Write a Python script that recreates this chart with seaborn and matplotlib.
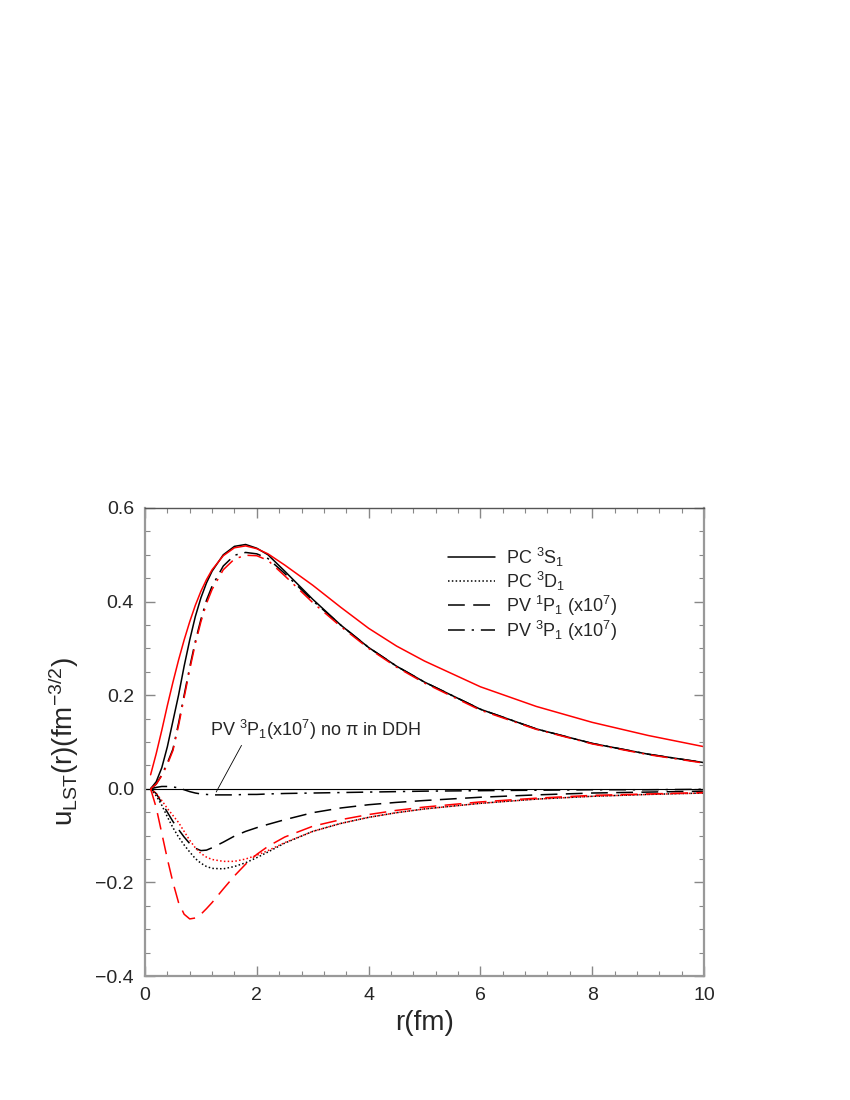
import matplotlib
matplotlib.use("Agg")
import matplotlib.pyplot as plt
from matplotlib.lines import Line2D
from matplotlib.ticker import MultipleLocator
import seaborn as sns

# ------------------------------
# data
# ------------------------------
r = [0.1, 0.2, 0.3, 0.4, 0.5, 0.6, 0.7, 0.8, 0.9, 1.0, 1.1, 1.2, 1.4, 1.6,
     1.8, 2.0, 2.2, 2.5, 3.0, 3.5, 4.0, 4.5, 5.0, 6.0, 7.0, 8.0, 9.0, 10.0]

# PC 3S1
s1_black = [0.0, 0.015, 0.045, 0.09, 0.145, 0.2, 0.262, 0.318, 0.368, 0.408, 0.44, 0.465, 0.5, 0.518,
            0.522, 0.514, 0.5, 0.465, 0.405, 0.35, 0.302, 0.262, 0.228, 0.170, 0.128, 0.097, 0.074, 0.056]
s1_red = [0.03, 0.075, 0.125, 0.178, 0.228, 0.275, 0.318, 0.357, 0.392, 0.422, 0.447, 0.468, 0.498, 0.515,
          0.519, 0.513, 0.502, 0.478, 0.435, 0.388, 0.343, 0.305, 0.273, 0.218, 0.176, 0.142, 0.114, 0.09]

# PC 3D1
d1_black = [0.0, -0.015, -0.035, -0.06, -0.083, -0.103, -0.12, -0.135, -0.149, -0.159, -0.166, -0.17, -0.171, -0.166,
            -0.158, -0.147, -0.135, -0.116, -0.091, -0.074, -0.061, -0.051, -0.043, -0.031, -0.022, -0.016, -0.012, -0.009]
d1_red = [0.0, -0.01, -0.025, -0.042, -0.057, -0.072, -0.091, -0.11, -0.126, -0.138, -0.146, -0.151, -0.155, -0.155,
          -0.15, -0.142, -0.132, -0.115, -0.091, -0.074, -0.061, -0.051, -0.043, -0.031, -0.022, -0.016, -0.012, -0.009]

# PV 1P1 (x10^7)
p1_black = [0.0, -0.01, -0.03, -0.05, -0.07, -0.087, -0.103, -0.117, -0.127, -0.132, -0.131, -0.126, -0.114, -0.101,
            -0.091, -0.083, -0.076, -0.066, -0.051, -0.041, -0.034, -0.029, -0.025, -0.018, -0.013, -0.009, -0.007, -0.005]
p1_red = [0.0, -0.04, -0.095, -0.15, -0.2, -0.243, -0.268, -0.278, -0.276, -0.268, -0.256, -0.243, -0.214, -0.186,
          -0.161, -0.14, -0.123, -0.103, -0.08, -0.066, -0.055, -0.046, -0.039, -0.028, -0.02, -0.014, -0.011, -0.008]

# PV 3P1 (x10^7)
p3_black = [0.0, 0.01, 0.03, 0.055, 0.085, 0.14, 0.2, 0.26, 0.315, 0.362, 0.403, 0.433, 0.476, 0.499,
            0.505, 0.502, 0.492, 0.46, 0.402, 0.35, 0.302, 0.262, 0.228, 0.170, 0.128, 0.097, 0.074, 0.056]
p3_red = [0.0, 0.01, 0.028, 0.052, 0.082, 0.135, 0.195, 0.255, 0.31, 0.357, 0.396, 0.426, 0.468, 0.491,
          0.499, 0.498, 0.488, 0.455, 0.398, 0.347, 0.3, 0.26, 0.226, 0.168, 0.127, 0.096, 0.073, 0.055]

# PV 3P1 (x10^7), no pi in DDH
p3_nopi = [0.0, 0.003, 0.005, 0.005, 0.004, 0.002, -0.002, -0.006, -0.009, -0.011, -0.012, -0.013, -0.013, -0.013,
           -0.012, -0.012, -0.011, -0.010, -0.009, -0.008, -0.007, -0.006, -0.005, -0.004, -0.003, -0.002, -0.002, -0.001]

legend_labels = [r"PC $^3$S$_1$", r"PC $^3$D$_1$",
                 r"PV $^1$P$_1$ (x10$^7$)", r"PV $^3$P$_1$ (x10$^7$)"]
note_text = r"PV $^3$P$_1$(x10$^7$) no π in DDH"

# ------------------------------
# style
# ------------------------------
sns.set_style("ticks")
plt.rcParams["font.family"] = ["Liberation Sans", "DejaVu Sans"]
plt.rcParams["mathtext.fontset"] = "custom"
plt.rcParams["mathtext.rm"] = "Liberation Sans"
plt.rcParams["mathtext.it"] = "Liberation Sans:italic"
plt.rcParams["mathtext.bf"] = "Liberation Sans:bold"

SOLID = "-"
DOT = (0, (1, 1.5))
DASH = (0, (11, 5.5))
DASHDOT = (0, (11, 4.5, 1.5, 4.5))

fig = plt.figure(figsize=(8.5, 11), dpi=100)
ax = fig.add_axes([0.1706, 0.1127, 0.6576, 0.4255])

ax.axhline(0, color="black", lw=0.8, zorder=1)

curves = [
    (s1_black, "black", SOLID),
    (p3_black, "black", DASHDOT),
    (d1_black, "black", DOT),
    (p1_black, "black", DASH),
    (p3_nopi, "black", DASHDOT),
    (s1_red, "red", SOLID),
    (p3_red, "red", DASHDOT),
    (d1_red, "red", DOT),
    (p1_red, "red", DASH),
]
for vals, col, ls in curves:
    sns.lineplot(x=r, y=vals, ax=ax, color=col, linestyle=ls, lw=1.1,
                 errorbar=None, sort=False, legend=False)

# annotation for the "no pi" curve
ax.annotate("", xy=(1.25, -0.012), xytext=(1.75, 0.098),
            arrowprops=dict(arrowstyle="-", lw=0.6, color="black"))
ax.text(1.16, 0.113, note_text, fontsize=13, va="baseline")

# legend (black only)
handles = [Line2D([], [], color="black", lw=1.1, linestyle=ls)
           for ls in [SOLID, DOT, DASH, DASHDOT]]
ax.legend(handles, legend_labels, loc="upper left", bbox_to_anchor=(0.53, 0.935),
          frameon=False, fontsize=13, handlelength=2.6, handletextpad=0.6,
          labelspacing=0.05, borderaxespad=0)

# axes
ax.set_xlim(0, 10)
ax.set_ylim(-0.4, 0.6)
ax.xaxis.set_major_locator(MultipleLocator(2))
ax.xaxis.set_minor_locator(MultipleLocator(0.4))
ax.yaxis.set_major_locator(MultipleLocator(0.2))
ax.yaxis.set_minor_locator(MultipleLocator(0.05))
ax.tick_params(which="both", direction="in", top=True, right=True, color="#888888")
ax.tick_params(which="major", length=7, width=1.0, labelsize=14, pad=8)
ax.tick_params(which="minor", length=3.5, width=0.8)
for side in ["left", "right", "bottom"]:
    ax.spines[side].set_color("#999999")
    ax.spines[side].set_linewidth(1.6)
ax.spines["top"].set_color("#555555")
ax.spines["top"].set_linewidth(1.0)

ax.set_xlabel("r(fm)", fontsize=20, labelpad=4)
ax.set_ylabel(r"u$_{\rm LST}$(r)(fm$^{-3/2}$)", fontsize=20, labelpad=10)

fig.savefig("out.png", dpi=100)
